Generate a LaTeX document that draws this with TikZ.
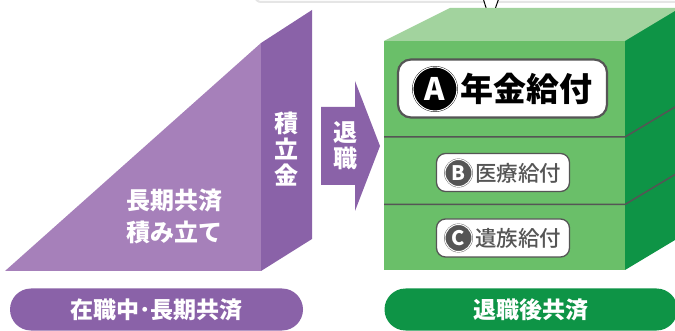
\documentclass[tikz,border=0pt]{standalone}
\usepackage{fontspec}
\newfontfamily\jp{Noto Sans CJK JP}
\newfontfamily\jpmed{Noto Sans CJK JP Medium}
\usetikzlibrary{positioning,calc}

\definecolor{purpleLight}{HTML}{A680BA}
\definecolor{purpleDark}{HTML}{8A62A8}
\definecolor{greenFront}{HTML}{6ABF69}
\definecolor{greenTop}{HTML}{A2D39E}
\definecolor{greenSide}{HTML}{0E9446}
\definecolor{lineGray}{HTML}{555555}

\begin{document}
\begin{tikzpicture}[
    x=1pt, y=-1pt,
    label/.style={text=white, font=\jp\bfseries\fontsize{24}{26}\selectfont, align=center, inner sep=0pt},
    pill/.style={rectangle, rounded corners=21pt, minimum width=293pt, minimum height=42pt, text=white, font=\jp\bfseries\fontsize{23}{24}\selectfont},
    tag/.style={rectangle, draw=lineGray, fill=white, rounded corners=9pt, line width=1.3pt, minimum width=133pt, minimum height=38pt},
    badge/.style={circle, fill=lineGray, draw=lineGray, double=white, double distance=1pt, text=white, inner sep=0pt, minimum size=27pt, font=\jp\bfseries\fontsize{20}{20}\selectfont},
    item/.style={inner sep=0pt, text=lineGray, font=\jpmed\fontsize{21.5}{22}\selectfont}
]
    \useasboundingbox (0,0) rectangle (675,331);

    % Box above (cut off) with its pointer
    \draw[black!10, line width=2pt, fill=white, rounded corners=6pt] (255,-20) rectangle (700,2);
    \draw[fill=white, line width=1pt, line join=miter] (483,-2) -- (490.5,22) -- (499,-2);

    % During service: accumulation
    \fill[purpleLight] (5,271) -- (261,43) -- (261,271) -- cycle;
    \fill[purpleDark] (261,43) -- (312,10) -- (312,239) -- (261,271) -- cycle;
    \node[label] (build) at (174,216) {長期共済\\[6pt]積み立て};
    \node[label] (fund) at (286.5,149) {積\\立\\金};

    % Retirement arrow
    \fill[purpleDark] (321,107) -- (355,107) -- (355,81) -- (380,146) -- (355,211) -- (355,185) -- (321,185) -- cycle;
    \node[label] (retire) at (345,146) {退\\職};

    % Benefit cube
    \fill[greenFront] (384,41) rectangle (625,270);
    \fill[greenTop] (384,41) -- (450,8) -- (700,8) -- (625,41) -- cycle;
    \fill[greenSide] (625,41) -- (680,8) -- (680,237) -- (625,270) -- cycle;
    \draw[lineGray, line width=1.5pt] (384,137) -- (625,137) -- (680,104);
    \draw[lineGray, line width=1.5pt] (384,204.5) -- (625,204.5) -- (680,171.5);

    % Benefits
    \node[tag, line width=2.2pt, rounded corners=13pt, minimum width=209pt, minimum height=58pt] (pension) at (502.5,88.5) {};
    \node[badge, fill=black, draw=black, minimum size=44pt, font=\jp\bfseries\fontsize{31}{31}\selectfont] (badgeA) at (435,89) {A};
    \node[item, text=black, font=\jp\bfseries\fontsize{33}{33}\selectfont, right=3pt of badgeA] (pensionText) {年金給付};

    \node[tag] (medical) at (503,172.5) {};
    \node[badge] (badgeB) at (458.5,173) {B};
    \node[item, right=3pt of badgeB] (medicalText) {医療給付};

    \node[tag] (survivor) at (503,238) {};
    \node[badge] (badgeC) at (458.5,238) {C};
    \node[item, right=3pt of badgeC] (survivorText) {遺族給付};

    % Bottom captions
    \node[pill, fill=purpleDark] (during) at (156.5,309.5) {在職中･長期共済};
    \node[pill, fill=greenSide] (after) at (531,309.5) {退職後共済};
\end{tikzpicture}
\end{document}
